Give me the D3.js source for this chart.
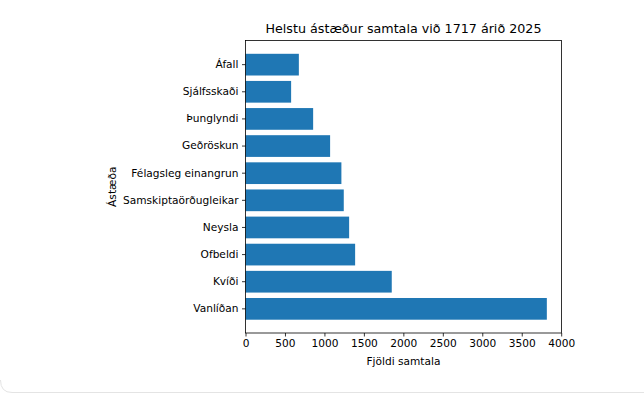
<!DOCTYPE html>
<html>
<head>
<meta charset="utf-8">
<script src="https://cdn.jsdelivr.net/npm/d3@7"></script>
<style>
  body { margin: 0; background: #fff; }
  text { font-family: "DejaVu Sans", sans-serif; fill: #000; }
</style>
</head>
<body>
<svg id="chart"></svg>
<script>
// Categories top to bottom and their counts
const categories = ["Áfall", "Sjálfsskaði", "Þunglyndi", "Geðröskun", "Félagsleg einangrun",
  "Samskiptaörðugleikar", "Neysla", "Ofbeldi", "Kvíði", "Vanlíðan"];
const counts = [676, 578, 857, 1072, 1215, 1245, 1313, 1389, 1853, 3818];
const xTicks = [0, 500, 1000, 1500, 2000, 2500, 3000, 3500, 4000];

const svg = d3.select("#chart")
  .attr("width", 644)
  .attr("height", 397);

// faint card border at the bottom
svg.append("path")
  .attr("d", "M0.5,380 Q0.5,392.5 12,392.5 L644,392.5")
  .attr("fill", "none")
  .attr("stroke", "#e4e4e4")
  .attr("stroke-width", 1);

const margin = { left: 245.5, right: 561.5, top: 40.5, bottom: 333 };

const data = categories.map((c, i) => ({ name: c, value: counts[i] }));

const x = d3.scaleLinear()
  .domain([0, 4000])
  .range([margin.left, margin.right - 0.3]);

const y = d3.scaleBand()
  .domain(categories)
  .range([margin.top, margin.bottom])
  .paddingInner(0.2)
  .paddingOuter(0.49);

// bars
svg.selectAll(".bar")
  .data(data)
  .join("rect")
  .attr("class", "bar")
  .attr("x", x(0))
  .attr("y", d => y(d.name))
  .attr("width", d => x(d.value) - x(0))
  .attr("height", y.bandwidth())
  .attr("fill", "#1f77b4");

// axes
const xAxis = svg.append("g")
  .attr("transform", `translate(0,${margin.bottom})`)
  .call(d3.axisBottom(x).tickValues(xTicks).tickFormat(d3.format("d"))
    .tickSizeOuter(0).tickSize(3.5).tickPadding(3))
  .call(g => g.select(".domain").remove());
xAxis.selectAll("text").attr("font-size", "10.6px");
xAxis.selectAll("line").attr("stroke-width", 0.8);

const yAxis = svg.append("g")
  .attr("transform", `translate(${margin.left},0)`)
  .call(d3.axisLeft(y).tickSizeOuter(0).tickSize(3.5).tickPadding(3.5))
  .call(g => g.select(".domain").remove());
yAxis.selectAll("text").attr("font-size", "10.6px");
yAxis.selectAll("line").attr("stroke-width", 0.8);

// frame
svg.append("rect")
  .attr("x", margin.left)
  .attr("y", margin.top)
  .attr("width", margin.right - margin.left)
  .attr("height", margin.bottom - margin.top)
  .attr("fill", "none")
  .attr("stroke", "#000")
  .attr("stroke-width", 0.8);

// labels
svg.append("text")
  .attr("x", (margin.left + margin.right) / 2)
  .attr("y", 33)
  .attr("text-anchor", "middle")
  .attr("font-size", "12.7px")
  .text("Helstu ástæður samtala við 1717 árið 2025");

svg.append("text")
  .attr("x", (margin.left + margin.right) / 2)
  .attr("y", 365)
  .attr("text-anchor", "middle")
  .attr("font-size", "10.6px")
  .text("Fjöldi samtala");

svg.append("text")
  .attr("transform", `translate(116,${(margin.top + margin.bottom) / 2}) rotate(-90)`)
  .attr("text-anchor", "middle")
  .attr("font-size", "10.6px")
  .text("Ástæða");
</script>
</body>
</html>
